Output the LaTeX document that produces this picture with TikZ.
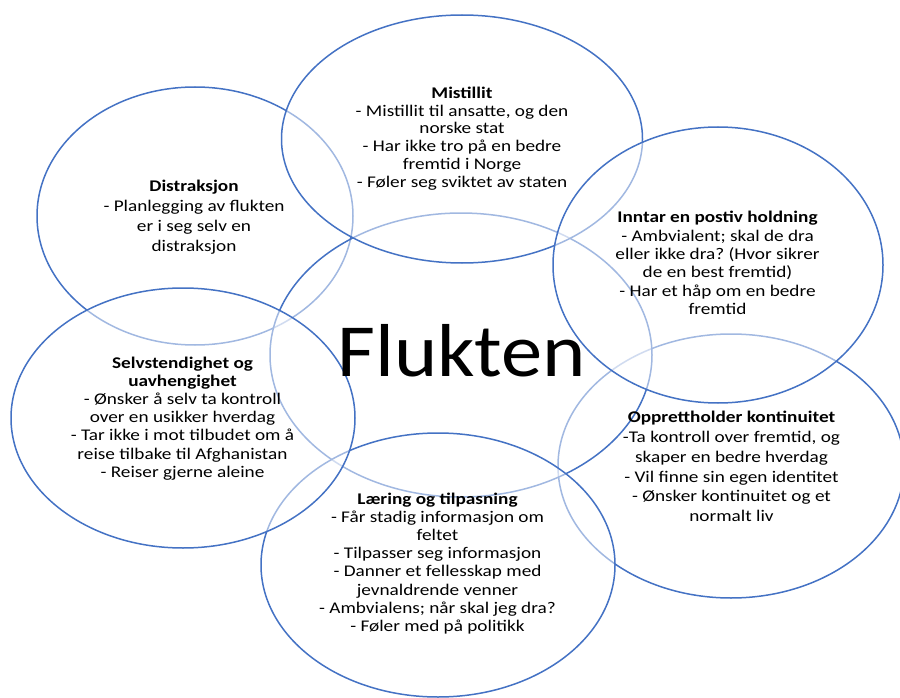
\documentclass[tikz,border=0pt]{standalone}
\usepackage{fontspec}
\setmainfont{Carlito}
\newfontfamily\vennfont[FakeStretch=1.18]{Carlito}
\newfontfamily\bigfont[FakeStretch=1.1]{Carlito}
\usetikzlibrary{shapes.geometric}
\definecolor{vennblue}{RGB}{68,114,196}
\tikzset{
  venn/.style={ellipse, draw=vennblue, line width=1.5pt, fill=white, fill opacity=0.5, inner sep=0pt},
  venntext/.style={align=center, text=black, font=\vennfont\fontsize{16.3}{#1}\selectfont\frenchspacing},
  venntext/.default=18
}

\begin{document}
\begin{tikzpicture}[x=1pt, y=-1pt]
\useasboundingbox (0, 0) rectangle (900, 698);

% the circles, back to front
\node at (195, 216) [venn, minimum width=316pt, minimum height=258pt] (distraksjon) {};
\node at (731, 466) [venn, minimum width=346pt, minimum height=264pt] (opprett) {};
\node at (461, 355) [venn, minimum width=382pt, minimum height=284pt] (flukten) {};
\node at (462, 139) [venn, minimum width=361pt, minimum height=248pt] (mistillit) {};
\node at (718, 265) [venn, minimum width=330pt, minimum height=276pt] (inntar) {};
\node at (438, 565) [venn, minimum width=354pt, minimum height=264pt] (laering) {};
\node at (183, 418) [venn, minimum width=344pt, minimum height=260pt] (selv) {};

% texts
\node at (461.5, 376) [anchor=base, font=\bigfont\fontsize{75}{80}\selectfont] (fluktentext) {Flukten};
\node at (462, 138.5) [venntext=17.8] (mistillittext) {\textbf{Mistillit}\\- Mistillit til ansatte, og den\\norske stat\\- Har ikke tro på en bedre\\fremtid i Norge\\- Føler seg sviktet av staten};
\node at (194, 217) [venntext=20] (distraksjontext) {\textbf{Distraksjon}\\- Planlegging av flukten\\er i seg selv en\\distraksjon};
\node at (717.5, 263) [venntext=18.4] (inntartext) {\textbf{Inntar en postiv holdning}\\- Ambvialent; skal de dra\\eller ikke dra? (Hvor sikrer\\de en best fremtid)\\- Har et håp om en bedre\\fremtid};
\node at (182.5, 418.5) [venntext=18.1] (selvtext) {\textbf{Selvstendighet og}\\\textbf{uavhengighet}\\- Ønsker å selv ta kontroll\\over en usikker hverdag\\- Tar ikke i mot tilbudet om å\\reise tilbake til Afghanistan\\- Reiser gjerne aleine};
\node at (731.5, 466.5) [venntext=19.8] (opprettext) {\textbf{Opprettholder kontinuitet}\\-Ta kontroll over fremtid, og\\skaper en bedre hverdag\\- Vil finne sin egen identitet\\- Ønsker kontinuitet og et\\normalt liv};
\node at (437.5, 563.5) [venntext=18.1] (laeringtext) {\textbf{Læring og tilpasning}\\- Får stadig informasjon om\\feltet\\- Tilpasser seg informasjon\\- Danner et fellesskap med\\jevnaldrende venner\\- Ambvialens; når skal jeg dra?\\- Føler med på politikk};
\end{tikzpicture}
\end{document}
